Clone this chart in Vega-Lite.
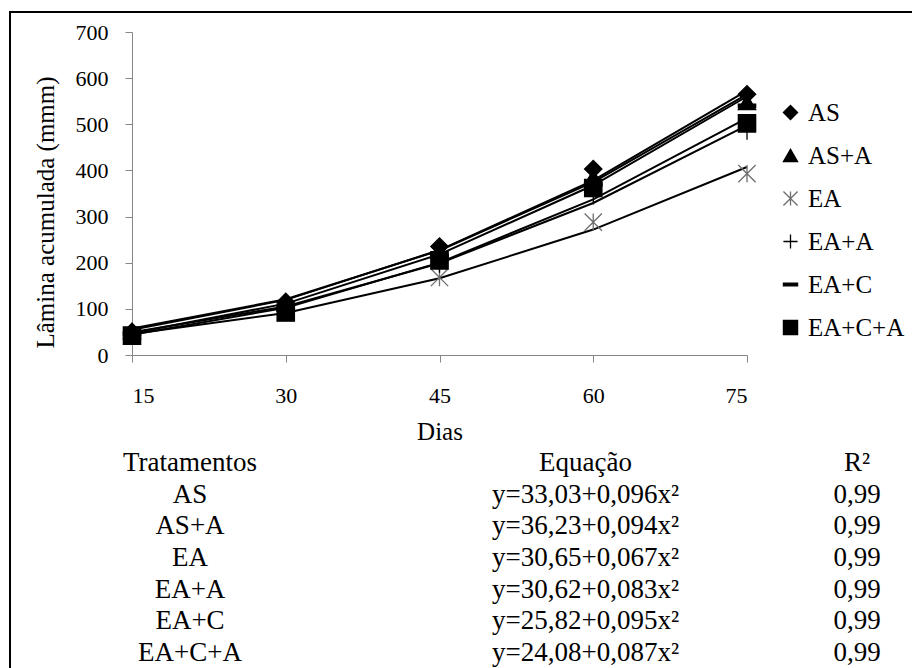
{
  "$schema": "https://vega.github.io/schema/vega-lite/v6.json",
  "width": 902,
  "height": 656,
  "autosize": {"type": "none"},
  "padding": {"left": 10, "top": 12, "right": 0, "bottom": 0},
  "background": "white",
  "config": {
    "view": {"stroke": "black", "strokeWidth": 2, "strokeDash": [902, 1558, 656]},
    "font": "Liberation Serif, Tinos, Noto Serif, DejaVu Serif, FreeSerif, Nimbus Roman, Times, serif",
    "axis": {
      "grid": false,
      "domainColor": "#868686",
      "tickColor": "#868686",
      "tickSize": 7,
      "labelFont": "Liberation Serif, Tinos, Noto Serif, DejaVu Serif, FreeSerif, Nimbus Roman, Times, serif",
      "labelFontSize": 22,
      "labelColor": "black",
      "titleFont": "Liberation Serif, Tinos, Noto Serif, DejaVu Serif, FreeSerif, Nimbus Roman, Times, serif",
      "titleFontSize": 25,
      "titleColor": "black",
      "titleFontWeight": "normal"
    },
    "legend": {
      "orient": "none",
      "legendX": 768,
      "legendY": 88,
      "padding": 0,
      "labelFont": "Liberation Serif, Tinos, Noto Serif, DejaVu Serif, FreeSerif, Nimbus Roman, Times, serif",
      "labelFontSize": 25,
      "labelColor": "black",
      "labelOffset": 5,
      "symbolSize": 200,
      "symbolStrokeWidth": 1.3,
      "rowPadding": 17
    }
  },
  "datasets": {
    "obs": [
      {"trat": "AS", "dias": 15, "lamina": 50}, {"trat": "AS", "dias": 30, "lamina": 115}, {"trat": "AS", "dias": 45, "lamina": 235}, {"trat": "AS", "dias": 60, "lamina": 403}, {"trat": "AS", "dias": 75, "lamina": 565},
      {"trat": "AS+A", "dias": 15, "lamina": 52}, {"trat": "AS+A", "dias": 30, "lamina": 112}, {"trat": "AS+A", "dias": 45, "lamina": 225}, {"trat": "AS+A", "dias": 60, "lamina": 385}, {"trat": "AS+A", "dias": 75, "lamina": 548},
      {"trat": "EA", "dias": 15, "lamina": 42}, {"trat": "EA", "dias": 30, "lamina": 92}, {"trat": "EA", "dias": 45, "lamina": 168}, {"trat": "EA", "dias": 60, "lamina": 288}, {"trat": "EA", "dias": 75, "lamina": 393},
      {"trat": "EA+A", "dias": 15, "lamina": 45}, {"trat": "EA+A", "dias": 30, "lamina": 95}, {"trat": "EA+A", "dias": 45, "lamina": 197}, {"trat": "EA+A", "dias": 60, "lamina": 345}, {"trat": "EA+A", "dias": 75, "lamina": 485},
      {"trat": "EA+C", "dias": 15, "lamina": 45}, {"trat": "EA+C", "dias": 30, "lamina": 100}, {"trat": "EA+C", "dias": 45, "lamina": 215}, {"trat": "EA+C", "dias": 60, "lamina": 370}, {"trat": "EA+C", "dias": 75, "lamina": 540},
      {"trat": "EA+C+A", "dias": 15, "lamina": 42}, {"trat": "EA+C+A", "dias": 30, "lamina": 92}, {"trat": "EA+C+A", "dias": 45, "lamina": 205}, {"trat": "EA+C+A", "dias": 60, "lamina": 362}, {"trat": "EA+C+A", "dias": 75, "lamina": 502}
    ],
    "fit": [
      {"trat": "AS", "dias": 15, "lamina": 54.63}, {"trat": "AS", "dias": 30, "lamina": 119.43}, {"trat": "AS", "dias": 45, "lamina": 227.43}, {"trat": "AS", "dias": 60, "lamina": 378.63}, {"trat": "AS", "dias": 75, "lamina": 573.03},
      {"trat": "AS+A", "dias": 15, "lamina": 57.38}, {"trat": "AS+A", "dias": 30, "lamina": 120.83}, {"trat": "AS+A", "dias": 45, "lamina": 226.58}, {"trat": "AS+A", "dias": 60, "lamina": 374.63}, {"trat": "AS+A", "dias": 75, "lamina": 564.98},
      {"trat": "EA", "dias": 15, "lamina": 45.73}, {"trat": "EA", "dias": 30, "lamina": 90.95}, {"trat": "EA", "dias": 45, "lamina": 166.33}, {"trat": "EA", "dias": 60, "lamina": 271.85}, {"trat": "EA", "dias": 75, "lamina": 407.53},
      {"trat": "EA+A", "dias": 15, "lamina": 49.3}, {"trat": "EA+A", "dias": 30, "lamina": 105.32}, {"trat": "EA+A", "dias": 45, "lamina": 198.7}, {"trat": "EA+A", "dias": 60, "lamina": 329.42}, {"trat": "EA+A", "dias": 75, "lamina": 497.5},
      {"trat": "EA+C", "dias": 15, "lamina": 47.2}, {"trat": "EA+C", "dias": 30, "lamina": 111.32}, {"trat": "EA+C", "dias": 45, "lamina": 218.2}, {"trat": "EA+C", "dias": 60, "lamina": 367.82}, {"trat": "EA+C", "dias": 75, "lamina": 560.2},
      {"trat": "EA+C+A", "dias": 15, "lamina": 43.66}, {"trat": "EA+C+A", "dias": 30, "lamina": 102.38}, {"trat": "EA+C+A", "dias": 45, "lamina": 200.26}, {"trat": "EA+C+A", "dias": 60, "lamina": 337.28}, {"trat": "EA+C+A", "dias": 75, "lamina": 513.46}
    ],
    "tab": [
      {"trat": "Tratamentos", "eq": "Equação", "r2": "R²"},
      {"trat": "AS", "eq": "y=33,03+0,096x²", "r2": "0,99"},
      {"trat": "AS+A", "eq": "y=36,23+0,094x²", "r2": "0,99"},
      {"trat": "EA", "eq": "y=30,65+0,067x²", "r2": "0,99"},
      {"trat": "EA+A", "eq": "y=30,62+0,083x²", "r2": "0,99"},
      {"trat": "EA+C", "eq": "y=25,82+0,095x²", "r2": "0,99"},
      {"trat": "EA+C+A", "eq": "y=24,08+0,087x²", "r2": "0,99"}
    ]
  },
  "layer": [
    {
      "encoding": {
        "x": {
          "field": "dias", "type": "quantitative",
          "scale": {"domain": [15, 75], "range": [122, 737], "nice": false, "zero": false},
          "axis": {"values": [15, 30, 45, 60, 75], "offset": -313, "labelPadding": 23, "title": "Dias", "titleBaseline": "alphabetic", "titleY": 84, "titleAlign": "center"}
        },
        "y": {
          "field": "lamina", "type": "quantitative",
          "scale": {"domain": [0, 700], "range": [343, 20], "nice": false},
          "axis": {"values": [0, 100, 200, 300, 400, 500, 600, 700], "offset": -122, "labelPadding": 17, "title": "Lâmina acumulada (mmm)", "titleAngle": -90, "titleBaseline": "alphabetic", "titleAlign": "center", "titleX": -79, "titleY": 200}
        }
      },
      "layer": [
        {
          "data": {"name": "fit"},
          "mark": {"type": "line", "color": "black", "strokeWidth": 2},
          "encoding": {"detail": {"field": "trat", "type": "nominal"}}
        },
        {
          "data": {"name": "obs"},
          "mark": {"type": "point", "filled": true, "fill": "black", "opacity": 1, "strokeWidth": 1.3, "size": 300},
          "encoding": {
            "shape": {
              "field": "trat", "type": "nominal",
              "scale": {
                "domain": ["AS", "AS+A", "EA", "EA+A", "EA+C", "EA+C+A"],
                "range": ["diamond", "triangle-up", "M-1,-1L1,1M-1,1L1,-1M0,-1L0,1", "M-1,0L1,0M0,-1L0,1", "M-1,-0.2H1V0.2H-1Z", "square"]
              },
              "legend": {"title": null}
            },
            "stroke": {
              "field": "trat", "type": "nominal",
              "scale": {
                "domain": ["AS", "AS+A", "EA", "EA+A", "EA+C", "EA+C+A"],
                "range": ["black", "black", "#6e6e6e", "black", "black", "black"]
              },
              "legend": {"title": null}
            }
          }
        }
      ]
    },
    {
      "data": {"name": "tab"},
      "encoding": {
        "y": {
          "field": "trat", "type": "nominal",
          "scale": {"type": "point", "domain": ["Tratamentos", "AS", "AS+A", "EA", "EA+A", "EA+C", "EA+C+A"], "range": [451, 641], "padding": 0},
          "axis": null
        }
      },
      "layer": [
        {
          "mark": {"type": "text", "font": "Liberation Serif, Tinos, Noto Serif, DejaVu Serif, FreeSerif, Nimbus Roman, Times, serif", "fontSize": 27, "color": "black"},
          "encoding": {
            "x": {"datum": "Tratamentos", "type": "nominal", "scale": {"type": "point", "domain": ["Tratamentos", "Equação", "R²"], "range": [180, 847], "padding": 0}, "axis": null},
            "text": {"field": "trat"}
          }
        },
        {
          "mark": {"type": "text", "font": "Liberation Serif, Tinos, Noto Serif, DejaVu Serif, FreeSerif, Nimbus Roman, Times, serif", "fontSize": 27, "color": "black", "dx": 62},
          "encoding": {
            "x": {"datum": "Equação", "type": "nominal", "axis": null},
            "text": {"field": "eq"}
          }
        },
        {
          "mark": {"type": "text", "font": "Liberation Serif, Tinos, Noto Serif, DejaVu Serif, FreeSerif, Nimbus Roman, Times, serif", "fontSize": 27, "color": "black"},
          "encoding": {
            "x": {"datum": "R²", "type": "nominal", "axis": null},
            "text": {"field": "r2"}
          }
        }
      ]
    }
  ],
  "resolve": {
    "scale": {"x": "independent", "y": "independent"},
    "axis": {"x": "independent", "y": "independent"}
  }
}
